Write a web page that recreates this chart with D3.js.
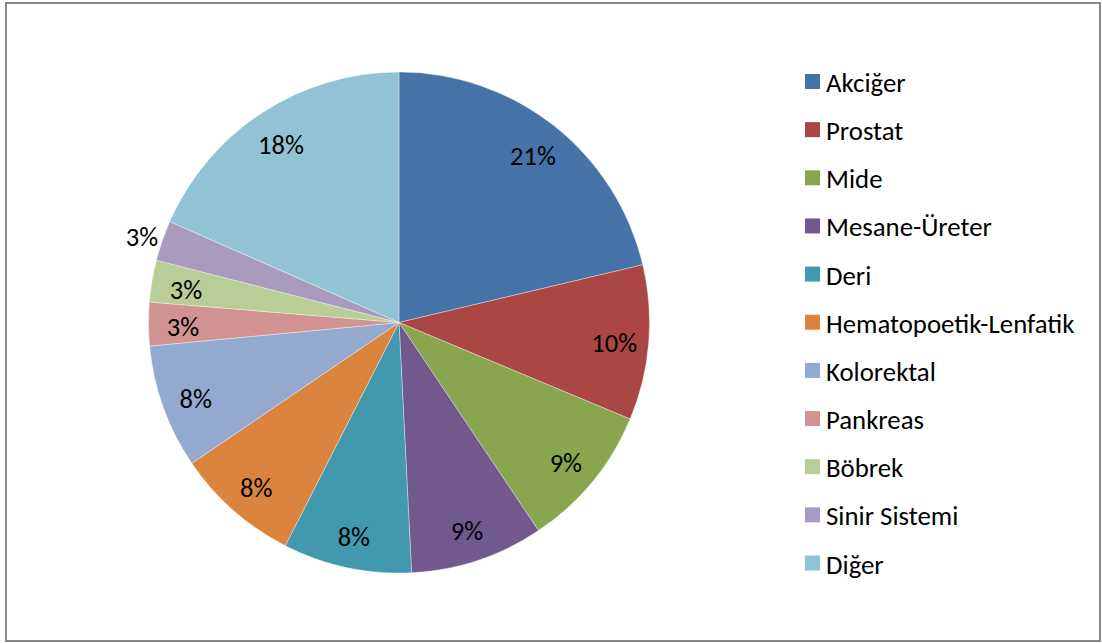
<!DOCTYPE html>
<html>
<head>
<meta charset="utf-8">
<script src="https://cdn.jsdelivr.net/npm/d3@7"></script>
<style>
  html, body { margin: 0; padding: 0; background: #fff; }
  svg { display: block; }
  text { font-family: Carlito, "Open Sans", "Noto Sans", sans-serif; fill: #000; }
</style>
</head>
<body>
<svg id="chart" width="1102" height="643"></svg>
<script>
// Cancer site distribution (%)
const categories = ["Akciğer", "Prostat", "Mide", "Mesane-Üreter", "Deri",
  "Hematopoetik-Lenfatik", "Kolorektal", "Pankreas", "Böbrek", "Sinir Sistemi", "Diğer"];
const values = [21.3, 10.0, 9.3, 8.6, 8.3, 8.0, 8.0, 2.8, 2.7, 2.6, 18.4];
const colors = ["#4572A7", "#AA4643", "#89A54E", "#71588F", "#4198AF", "#DB843D",
  "#93A9CF", "#D19392", "#B9CD96", "#A99BBD", "#92C3D4"];
// labels drawn outside the pie
const outsideLabels = ["Sinir Sistemi"];

const svg = d3.select("#chart");

// chart frame
svg.append("rect")
  .attr("x", 6).attr("y", 3).attr("width", 1094).attr("height", 638)
  .attr("fill", "#fff").attr("stroke", "#878787").attr("stroke-width", 2);

const cx = 399, cy = 322.5, R = 250.5;
const data = categories.map((c, i) => ({ name: c, value: values[i] }));
const total = d3.sum(values);

const pie = d3.pie().value(d => d.value).sort(null);
const arcs = pie(data);
const arc = d3.arc().innerRadius(0).outerRadius(R);
const labelArc = d3.arc().innerRadius(216).outerRadius(216);
const outerLabelArc = d3.arc().innerRadius(272).outerRadius(272);

const color = d3.scaleOrdinal().domain(categories).range(colors);

const g = svg.append("g").attr("transform", `translate(${cx},${cy})`);

g.selectAll("path.slice")
  .data(arcs)
  .join("path")
  .attr("class", "slice")
  .attr("d", arc)
  .attr("fill", d => color(d.data.name))
  .attr("stroke", "rgba(255,255,255,0.6)")
  .attr("stroke-width", 0.6);

g.selectAll("text.pct")
  .data(arcs)
  .join("text")
  .attr("class", "pct")
  .attr("transform", d => {
    const a = outsideLabels.includes(d.data.name) ? outerLabelArc : labelArc;
    const [x, y] = a.centroid(d);
    return `translate(${x},${y + 3})`;
  })
  .attr("text-anchor", "middle")
  .attr("dominant-baseline", "central")
  .style("font-size", "26.5px")
  .text(d => Math.round(d.data.value / total * 100) + "%");

// legend
const legendY = d3.scalePoint().domain(categories).range([81.5, 563]);
const lg = svg.append("g");
const item = lg.selectAll("g.item")
  .data(categories)
  .join("g")
  .attr("class", "item")
  .attr("transform", d => `translate(805,${legendY(d)})`);
item.append("rect")
  .attr("x", 0).attr("y", -7.5).attr("width", 15).attr("height", 15)
  .attr("fill", d => color(d));
item.append("text")
  .attr("x", 21).attr("y", 1)
  .attr("dominant-baseline", "central")
  .style("font-size", "26.8px")
  .text(d => d);
</script>
</body>
</html>
